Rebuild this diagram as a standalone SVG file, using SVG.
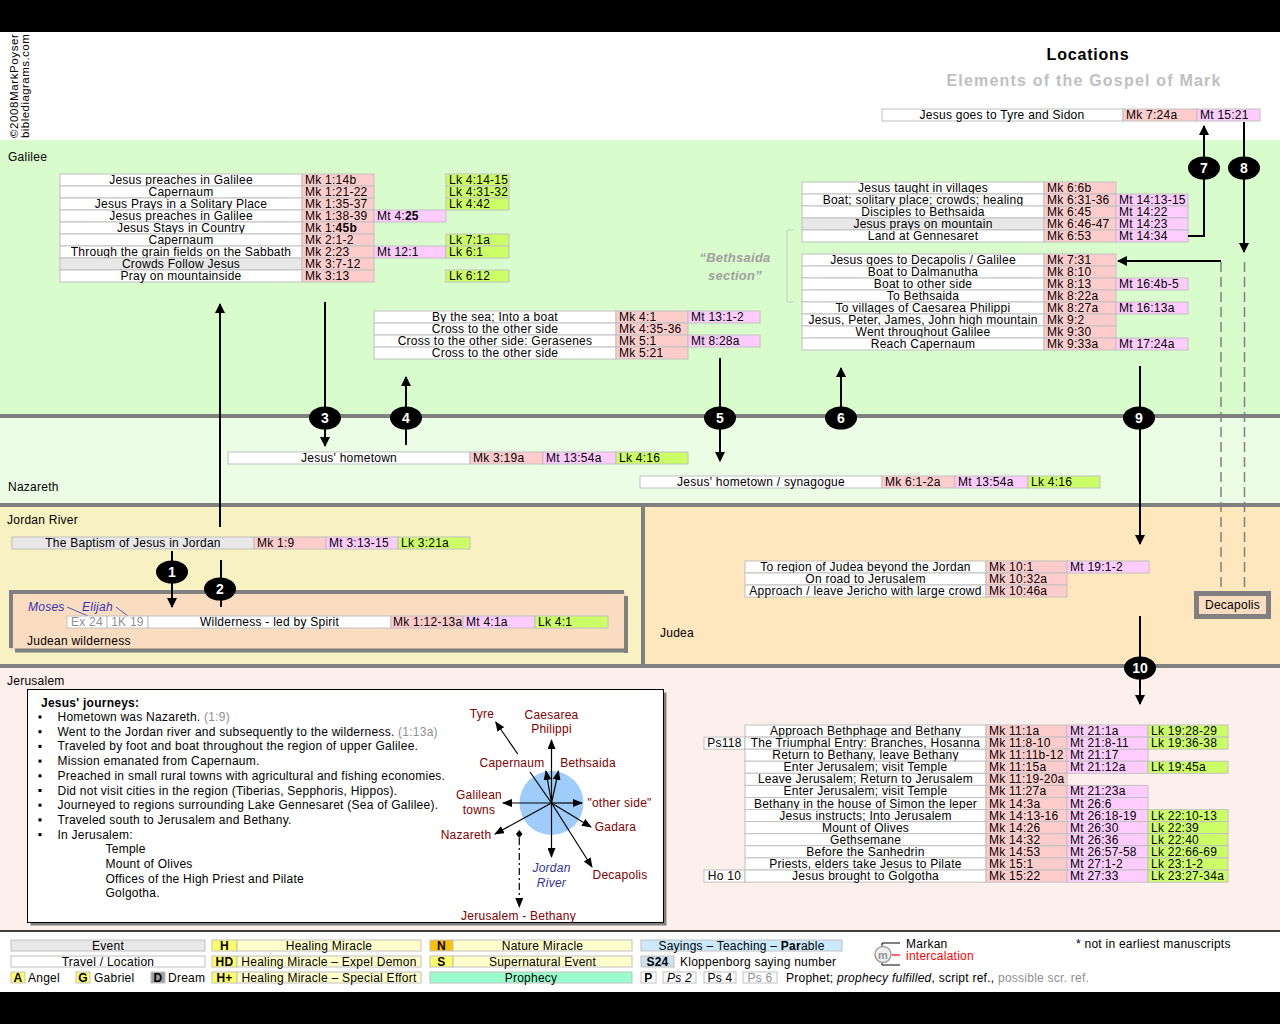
<svg xmlns="http://www.w3.org/2000/svg" width="1280" height="1024" viewBox="0 0 1280 1024">
<defs>
<style>
text{font-family:"Liberation Sans",Arial,sans-serif;font-size:12px;letter-spacing:0.25px;fill:#000}
.m{text-anchor:middle}
.c{stroke:#c0c0c0;stroke-width:1}
.w{fill:#fff}.e{fill:#e8e8e8}.mk{fill:#ffcccc}.mt{fill:#ffccff}.lk{fill:#ccff66}
.sep{stroke:#808080;stroke-width:4}
.ar{stroke:#000;stroke-width:2;fill:none}
.dash{stroke:#808080;stroke-width:1.5;stroke-dasharray:10 5;fill:none}
.n{font-size:14px;font-weight:bold;fill:#fff;text-anchor:middle;letter-spacing:0}
.cp{fill:#800000}
.ca{stroke:#000;stroke-width:1.2;fill:none}
.g{fill:#909090}
.b{font-weight:bold}
.yb{fill:#ffff66;stroke:#c0c0c0;stroke-width:1}
.ly{fill:#ffffcc;stroke:#c0c0c0;stroke-width:1}
</style>
<marker id="ah" viewBox="0 0 10 10" refX="9" refY="5" markerWidth="10" markerHeight="10" markerUnits="userSpaceOnUse" orient="auto"><path d="M0,0L10,5L0,10z" fill="#000"/></marker>
<marker id="sa" viewBox="0 0 10 8" refX="9" refY="4" markerWidth="10" markerHeight="8" markerUnits="userSpaceOnUse" orient="auto"><path d="M0,0L10,4L0,8z" fill="#000"/></marker>
</defs>

<!-- backgrounds -->
<rect x="0" y="0" width="1280" height="1024" fill="#fff"/>
<rect x="0" y="0" width="1280" height="32" fill="#000"/>
<rect x="0" y="140" width="1280" height="276" fill="#d9fccc"/>
<rect x="0" y="416" width="1280" height="89" fill="#ebfde5"/>
<rect x="0" y="505" width="643" height="161" fill="#f8f1c1"/>
<rect x="643" y="505" width="637" height="161" fill="#fee7bd"/>
<rect x="0" y="666" width="1280" height="265" fill="#fdf0ec"/>
<rect x="0" y="992" width="1280" height="32" fill="#000"/>
<line x1="0" y1="931" x2="1280" y2="931" stroke="#000" stroke-width="1.5"/>
<line class="sep" x1="0" y1="416" x2="1280" y2="416"/>
<line class="sep" x1="0" y1="505" x2="1280" y2="505"/>
<line class="sep" x1="643" y1="505" x2="643" y2="666"/>
<line class="sep" x1="0" y1="666" x2="1280" y2="666"/>

<!-- header -->
<g id="title">
<text x="1088" y="60" class="m b" style="font-size:16px;letter-spacing:0.8px">Locations</text>
<text x="1084" y="86" class="m b" style="font-size:16px;letter-spacing:1.2px;fill:#c0c0c0">Elements of the Gospel of Mark</text>
</g>
<g id="copyright">
<text transform="translate(18,138) rotate(-90)" style="font-size:11.5px;letter-spacing:0.6px">©2008MarkPoyser</text>
<text transform="translate(29,138) rotate(-90)" style="font-size:11.5px;letter-spacing:0.45px">biblediagrams.com</text>
</g>

<!-- region labels -->
<g id="region-labels">
<text x="8" y="161">Galilee</text>
<text x="8" y="491">Nazareth</text>
<text x="7" y="524">Jordan River</text>
<text x="660" y="637">Judea</text>
<text x="7" y="685">Jerusalem</text>
</g>

<!-- Tyre -->
<g id="tyre-row">
<rect class="c w" x="882" y="109" width="241" height="12"/><rect class="c mk" x="1123" y="109" width="74" height="12"/><rect class="c mt" x="1197" y="109" width="63" height="12"/>
<text class="m" x="1002" y="119">Jesus goes to Tyre and Sidon</text><text x="1126" y="119">Mk 7:24a</text><text x="1200" y="119">Mt 15:21</text>
</g>

<!-- Galilee table 1 -->
<g id="galilee-table-1">
<rect class="c w" x="60" y="174" width="242" height="12"/><rect class="c mk" x="302" y="174" width="72" height="12"/><rect class="c lk" x="446" y="174" width="63" height="12"/>
<text class="m" x="181" y="184">Jesus preaches in Galilee</text><text x="305" y="184">Mk 1:14b</text><text x="449" y="184">Lk 4:14-15</text>
<rect class="c w" x="60" y="186" width="242" height="12"/><rect class="c mk" x="302" y="186" width="72" height="12"/><rect class="c lk" x="446" y="186" width="63" height="12"/>
<text class="m" x="181" y="196">Capernaum</text><text x="305" y="196">Mk 1:21-22</text><text x="449" y="196">Lk 4:31-32</text>
<rect class="c w" x="60" y="198" width="242" height="12"/><rect class="c mk" x="302" y="198" width="72" height="12"/><rect class="c lk" x="446" y="198" width="63" height="12"/>
<text class="m" x="181" y="208">Jesus Prays in a Solitary Place</text><text x="305" y="208">Mk 1:35-37</text><text x="449" y="208">Lk 4:42</text>
<rect class="c w" x="60" y="210" width="242" height="12"/><rect class="c mk" x="302" y="210" width="72" height="12"/><rect class="c mt" x="374" y="210" width="72" height="12"/>
<text class="m" x="181" y="220">Jesus preaches in Galilee</text><text x="305" y="220">Mk 1:38-39</text><text x="377" y="220">Mt 4:<tspan class="b">25</tspan></text>
<rect class="c w" x="60" y="222" width="242" height="12"/><rect class="c mk" x="302" y="222" width="72" height="12"/>
<text class="m" x="181" y="232">Jesus Stays in Country</text><text x="305" y="232">Mk 1:<tspan class="b">45b</tspan></text>
<rect class="c w" x="60" y="234" width="242" height="12"/><rect class="c mk" x="302" y="234" width="72" height="12"/><rect class="c lk" x="446" y="234" width="63" height="12"/>
<text class="m" x="181" y="244">Capernaum</text><text x="305" y="244">Mk 2:1-2</text><text x="449" y="244">Lk 7:1a</text>
<rect class="c w" x="60" y="246" width="242" height="12"/><rect class="c mk" x="302" y="246" width="72" height="12"/><rect class="c mt" x="374" y="246" width="72" height="12"/><rect class="c lk" x="446" y="246" width="63" height="12"/>
<text class="m" x="181" y="256">Through the grain fields on the Sabbath</text><text x="305" y="256">Mk 2:23</text><text x="377" y="256">Mt 12:1</text><text x="449" y="256">Lk 6:1</text>
<rect class="c e" x="60" y="258" width="242" height="12"/><rect class="c mk" x="302" y="258" width="72" height="12"/>
<text class="m" x="181" y="268">Crowds Follow Jesus</text><text x="305" y="268">Mk 3:7-12</text>
<rect class="c w" x="60" y="270" width="242" height="12"/><rect class="c mk" x="302" y="270" width="72" height="12"/><rect class="c lk" x="446" y="270" width="63" height="12"/>
<text class="m" x="181" y="280">Pray on mountainside</text><text x="305" y="280">Mk 3:13</text><text x="449" y="280">Lk 6:12</text>
</g>

<!-- Sea table -->
<g id="sea-table">
<rect class="c w" x="374" y="311" width="242" height="12"/><rect class="c mk" x="616" y="311" width="72" height="12"/><rect class="c mt" x="688" y="311" width="72" height="12"/>
<text class="m" x="495" y="321">By the sea; Into a boat</text><text x="619" y="321">Mk 4:1</text><text x="691" y="321">Mt 13:1-2</text>
<rect class="c w" x="374" y="323" width="242" height="12"/><rect class="c mk" x="616" y="323" width="72" height="12"/>
<text class="m" x="495" y="333">Cross to the other side</text><text x="619" y="333">Mk 4:35-36</text>
<rect class="c w" x="374" y="335" width="242" height="12"/><rect class="c mk" x="616" y="335" width="72" height="12"/><rect class="c mt" x="688" y="335" width="72" height="12"/>
<text class="m" x="495" y="345">Cross to the other side: Gerasenes</text><text x="619" y="345">Mk 5:1</text><text x="691" y="345">Mt 8:28a</text>
<rect class="c w" x="374" y="347" width="242" height="12"/><rect class="c mk" x="616" y="347" width="72" height="12"/>
<text class="m" x="495" y="357">Cross to the other side</text><text x="619" y="357">Mk 5:21</text>
</g>

<!-- Galilee table 2 -->
<g id="galilee-table-2">
<rect class="c w" x="802" y="182" width="242" height="12"/><rect class="c mk" x="1044" y="182" width="72" height="12"/>
<text class="m" x="923" y="192">Jesus taught in villages</text><text x="1047" y="192">Mk 6:6b</text>
<rect class="c w" x="802" y="194" width="242" height="12"/><rect class="c mk" x="1044" y="194" width="72" height="12"/><rect class="c mt" x="1116" y="194" width="72" height="12"/>
<text class="m" x="923" y="204">Boat; solitary place; crowds; healing</text><text x="1047" y="204">Mk 6:31-36</text><text x="1119" y="204">Mt 14:13-15</text>
<rect class="c w" x="802" y="206" width="242" height="12"/><rect class="c mk" x="1044" y="206" width="72" height="12"/><rect class="c mt" x="1116" y="206" width="72" height="12"/>
<text class="m" x="923" y="216">Disciples to Bethsaida</text><text x="1047" y="216">Mk 6:45</text><text x="1119" y="216">Mt 14:22</text>
<rect class="c e" x="802" y="218" width="242" height="12"/><rect class="c mk" x="1044" y="218" width="72" height="12"/><rect class="c mt" x="1116" y="218" width="72" height="12"/>
<text class="m" x="923" y="228">Jesus prays on mountain</text><text x="1047" y="228">Mk 6:46-47</text><text x="1119" y="228">Mt 14:23</text>
<rect class="c w" x="802" y="230" width="242" height="12"/><rect class="c mk" x="1044" y="230" width="72" height="12"/><rect class="c mt" x="1116" y="230" width="72" height="12"/>
<text class="m" x="923" y="240">Land at Gennesaret</text><text x="1047" y="240">Mk 6:53</text><text x="1119" y="240">Mt 14:34</text>
</g>

<!-- Galilee table 3 -->
<g id="galilee-table-3">
<rect class="c w" x="802" y="254" width="242" height="12"/><rect class="c mk" x="1044" y="254" width="72" height="12"/>
<text class="m" x="923" y="264">Jesus goes to Decapolis / Galilee</text><text x="1047" y="264">Mk 7:31</text>
<rect class="c w" x="802" y="266" width="242" height="12"/><rect class="c mk" x="1044" y="266" width="72" height="12"/>
<text class="m" x="923" y="276">Boat to Dalmanutha</text><text x="1047" y="276">Mk 8:10</text>
<rect class="c w" x="802" y="278" width="242" height="12"/><rect class="c mk" x="1044" y="278" width="72" height="12"/><rect class="c mt" x="1116" y="278" width="72" height="12"/>
<text class="m" x="923" y="288">Boat to other side</text><text x="1047" y="288">Mk 8:13</text><text x="1119" y="288">Mt 16:4b-5</text>
<rect class="c w" x="802" y="290" width="242" height="12"/><rect class="c mk" x="1044" y="290" width="72" height="12"/>
<text class="m" x="923" y="300">To Bethsaida</text><text x="1047" y="300">Mk 8:22a</text>
<rect class="c w" x="802" y="302" width="242" height="12"/><rect class="c mk" x="1044" y="302" width="72" height="12"/><rect class="c mt" x="1116" y="302" width="72" height="12"/>
<text class="m" x="923" y="312">To villages of Caesarea Philippi</text><text x="1047" y="312">Mk 8:27a</text><text x="1119" y="312">Mt 16:13a</text>
<rect class="c w" x="802" y="314" width="242" height="12"/><rect class="c mk" x="1044" y="314" width="72" height="12"/>
<text class="m" x="923" y="324">Jesus, Peter, James, John high mountain</text><text x="1047" y="324">Mk 9:2</text>
<rect class="c w" x="802" y="326" width="242" height="12"/><rect class="c mk" x="1044" y="326" width="72" height="12"/>
<text class="m" x="923" y="336">Went throughout  Galilee</text><text x="1047" y="336">Mk 9:30</text>
<rect class="c w" x="802" y="338" width="242" height="12"/><rect class="c mk" x="1044" y="338" width="72" height="12"/><rect class="c mt" x="1116" y="338" width="72" height="12"/>
<text class="m" x="923" y="348">Reach Capernaum</text><text x="1047" y="348">Mk 9:33a</text><text x="1119" y="348">Mt 17:24a</text>
</g>

<g id="bethsaida-section">
<path d="M793,230H787V302H793" fill="none" stroke="#c8c8c8" stroke-width="1"/>
<text class="m" x="735" y="262" style="font-size:13px;font-style:italic;font-weight:bold;fill:#a0a0a0">“Bethsaida</text>
<text class="m" x="735" y="280" style="font-size:13px;font-style:italic;font-weight:bold;fill:#a0a0a0">section”</text>
</g>

<!-- Nazareth rows -->
<g id="nazareth-row-1">
<rect class="c w" x="228" y="452" width="242" height="12"/><rect class="c mk" x="470" y="452" width="73" height="12"/><rect class="c mt" x="543" y="452" width="73" height="12"/><rect class="c lk" x="616" y="452" width="72" height="12"/>
<text class="m" x="349" y="462">Jesus' hometown</text><text x="473" y="462">Mk 3:19a</text><text x="546" y="462">Mt 13:54a</text><text x="619" y="462">Lk 4:16</text>
</g>
<g id="nazareth-row-2">
<rect class="c w" x="640" y="476" width="242" height="12"/><rect class="c mk" x="882" y="476" width="73" height="12"/><rect class="c mt" x="955" y="476" width="73" height="12"/><rect class="c lk" x="1028" y="476" width="72" height="12"/>
<text class="m" x="761" y="486">Jesus' hometown / synagogue</text><text x="885" y="486">Mk 6:1-2a</text><text x="958" y="486">Mt 13:54a</text><text x="1031" y="486">Lk 4:16</text>
</g>

<!-- Jordan -->
<g id="baptism-row">
<rect class="c e" x="12" y="537" width="242" height="12"/><rect class="c mk" x="254" y="537" width="72" height="12"/><rect class="c mt" x="326" y="537" width="72" height="12"/><rect class="c lk" x="398" y="537" width="72" height="12"/>
<text class="m" x="133" y="547">The Baptism of Jesus in Jordan</text><text x="257" y="547">Mk 1:9</text><text x="329" y="547">Mt 3:13-15</text><text x="401" y="547">Lk 3:21a</text>
</g>

<g id="judean-wilderness">
<rect x="11" y="592" width="615" height="58" fill="#fadcc0"/>
<path d="M9,592H624M11,590V648M15,650.5H628M626,596V653" stroke="#808080" stroke-width="4" fill="none"/>
<text x="28" y="611" style="font-style:italic;fill:#3333bb">Moses</text>
<text x="82" y="611" style="font-style:italic;fill:#3333bb">Elijah</text>
<line x1="67" y1="607" x2="88" y2="616" stroke="#5555bb" stroke-width="1"/>
<line x1="116" y1="607" x2="128" y2="616" stroke="#5555bb" stroke-width="1"/>
<rect class="c w" x="67" y="616" width="40" height="12"/><rect class="c w" x="107" y="616" width="41" height="12"/><rect class="c w" x="148" y="616" width="243" height="12"/><rect class="c mk" x="391" y="616" width="72" height="12"/><rect class="c mt" x="463" y="616" width="72" height="12"/><rect class="c lk" x="535" y="616" width="73" height="12"/>
<text class="m g" x="87" y="626">Ex 24</text><text class="m g" x="127.5" y="626">1K 19</text><text class="m" x="269.5" y="626">Wilderness - led by Spirit</text><text x="393" y="626">Mk 1:12-13a</text><text x="466" y="626">Mt 4:1a</text><text x="538" y="626">Lk 4:1</text>
<text x="27" y="645">Judean wilderness</text>
</g>

<!-- Judea -->
<g id="judea-table">
<rect class="c w" x="745" y="561" width="241" height="12"/><rect class="c mk" x="986" y="561" width="81" height="12"/><rect class="c mt" x="1067" y="561" width="82" height="12"/>
<text class="m" x="865.5" y="571">To region of Judea beyond the Jordan</text><text x="989" y="571">Mk 10:1</text><text x="1070" y="571">Mt 19:1-2</text>
<rect class="c w" x="745" y="573" width="241" height="12"/><rect class="c mk" x="986" y="573" width="81" height="12"/>
<text class="m" x="865.5" y="583">On road to Jerusalem</text><text x="989" y="583">Mk 10:32a</text>
<rect class="c w" x="745" y="585" width="241" height="12"/><rect class="c mk" x="986" y="585" width="81" height="12"/>
<text class="m" x="865.5" y="595">Approach / leave Jericho with large crowd</text><text x="989" y="595">Mk 10:46a</text>
</g>

<g id="decapolis">
<rect x="1196.5" y="593.5" width="72" height="23" fill="#fadcc0" stroke="#808080" stroke-width="5"/>
<text class="m" x="1232.5" y="609">Decapolis</text>
</g>

<!-- Jerusalem table -->
<g id="jerusalem-table">
<rect class="c w" x="745" y="725" width="241" height="12.1"/><rect class="c mk" x="986" y="725" width="81" height="12.1"/><rect class="c mt" x="1067" y="725" width="81" height="12.1"/><rect class="c lk" x="1148" y="725" width="80" height="12.1"/>
<text class="m" x="865.5" y="735">Approach Bethphage and Bethany</text><text x="989" y="735">Mk 11:1a</text><text x="1070" y="735">Mt 21:1a</text><text x="1151" y="735">Lk 19:28-29</text>
<rect class="c w" x="704" y="737.1" width="41" height="12.1"/><rect class="c w" x="745" y="737.1" width="241" height="12.1"/><rect class="c mk" x="986" y="737.1" width="81" height="12.1"/><rect class="c mt" x="1067" y="737.1" width="81" height="12.1"/><rect class="c lk" x="1148" y="737.1" width="80" height="12.1"/>
<text class="m" x="724.5" y="747.1">Ps118</text><text class="m" x="865.5" y="747.1">The Triumphal Entry: Branches, Hosanna</text><text x="989" y="747.1">Mk 11:8-10</text><text x="1070" y="747.1">Mt 21:8-11</text><text x="1151" y="747.1">Lk 19:36-38</text>
<rect class="c w" x="745" y="749.2" width="241" height="12.1"/><rect class="c mk" x="986" y="749.2" width="81" height="12.1"/><rect class="c mt" x="1067" y="749.2" width="81" height="12.1"/>
<text class="m" x="865.5" y="759.2">Return to Bethany, leave Bethany</text><text x="989" y="759.2">Mk 11:11b-12</text><text x="1070" y="759.2">Mt 21:17</text>
<rect class="c w" x="745" y="761.2" width="241" height="12.1"/><rect class="c mk" x="986" y="761.2" width="81" height="12.1"/><rect class="c mt" x="1067" y="761.2" width="81" height="12.1"/><rect class="c lk" x="1148" y="761.2" width="80" height="12.1"/>
<text class="m" x="865.5" y="771.2">Enter Jerusalem; visit Temple</text><text x="989" y="771.2">Mk 11:15a</text><text x="1070" y="771.2">Mt 21:12a</text><text x="1151" y="771.2">Lk 19:45a</text>
<rect class="c w" x="745" y="773.3" width="241" height="12.1"/><rect class="c mk" x="986" y="773.3" width="81" height="12.1"/>
<text class="m" x="865.5" y="783.3">Leave Jerusalem; Return to Jerusalem</text><text x="989" y="783.3">Mk 11:19-20a</text>
<rect class="c w" x="745" y="785.4" width="241" height="12.1"/><rect class="c mk" x="986" y="785.4" width="81" height="12.1"/><rect class="c mt" x="1067" y="785.4" width="81" height="12.1"/>
<text class="m" x="865.5" y="795.4">Enter Jerusalem; visit Temple</text><text x="989" y="795.4">Mk 11:27a</text><text x="1070" y="795.4">Mt 21:23a</text>
<rect class="c w" x="745" y="797.5" width="241" height="12.1"/><rect class="c mk" x="986" y="797.5" width="81" height="12.1"/><rect class="c mt" x="1067" y="797.5" width="81" height="12.1"/>
<text class="m" x="865.5" y="807.5">Bethany in the house of Simon the leper</text><text x="989" y="807.5">Mk 14:3a</text><text x="1070" y="807.5">Mt 26:6</text>
<rect class="c w" x="745" y="809.6" width="241" height="12.1"/><rect class="c mk" x="986" y="809.6" width="81" height="12.1"/><rect class="c mt" x="1067" y="809.6" width="81" height="12.1"/><rect class="c lk" x="1148" y="809.6" width="80" height="12.1"/>
<text class="m" x="865.5" y="819.6">Jesus instructs; Into Jerusalem</text><text x="989" y="819.6">Mk 14:13-16</text><text x="1070" y="819.6">Mt 26:18-19</text><text x="1151" y="819.6">Lk 22:10-13</text>
<rect class="c w" x="745" y="821.6" width="241" height="12.1"/><rect class="c mk" x="986" y="821.6" width="81" height="12.1"/><rect class="c mt" x="1067" y="821.6" width="81" height="12.1"/><rect class="c lk" x="1148" y="821.6" width="80" height="12.1"/>
<text class="m" x="865.5" y="831.6">Mount of Olives</text><text x="989" y="831.6">Mk 14:26</text><text x="1070" y="831.6">Mt 26:30</text><text x="1151" y="831.6">Lk 22:39</text>
<rect class="c w" x="745" y="833.7" width="241" height="12.1"/><rect class="c mk" x="986" y="833.7" width="81" height="12.1"/><rect class="c mt" x="1067" y="833.7" width="81" height="12.1"/><rect class="c lk" x="1148" y="833.7" width="80" height="12.1"/>
<text class="m" x="865.5" y="843.7">Gethsemane</text><text x="989" y="843.7">Mk 14:32</text><text x="1070" y="843.7">Mt 26:36</text><text x="1151" y="843.7">Lk 22:40</text>
<rect class="c w" x="745" y="845.8" width="241" height="12.1"/><rect class="c mk" x="986" y="845.8" width="81" height="12.1"/><rect class="c mt" x="1067" y="845.8" width="81" height="12.1"/><rect class="c lk" x="1148" y="845.8" width="80" height="12.1"/>
<text class="m" x="865.5" y="855.8">Before the Sanhedrin</text><text x="989" y="855.8">Mk 14:53</text><text x="1070" y="855.8">Mt 26:57-58</text><text x="1151" y="855.8">Lk 22:66-69</text>
<rect class="c w" x="745" y="857.9" width="241" height="12.1"/><rect class="c mk" x="986" y="857.9" width="81" height="12.1"/><rect class="c mt" x="1067" y="857.9" width="81" height="12.1"/><rect class="c lk" x="1148" y="857.9" width="80" height="12.1"/>
<text class="m" x="865.5" y="867.9">Priests, elders take Jesus to Pilate</text><text x="989" y="867.9">Mk 15:1</text><text x="1070" y="867.9">Mt 27:1-2</text><text x="1151" y="867.9">Lk 23:1-2</text>
<rect class="c w" x="704" y="870" width="41" height="12.1"/><rect class="c w" x="745" y="870" width="241" height="12.1"/><rect class="c mk" x="986" y="870" width="81" height="12.1"/><rect class="c mt" x="1067" y="870" width="81" height="12.1"/><rect class="c lk" x="1148" y="870" width="80" height="12.1"/>
<text class="m" x="724.5" y="880">Ho 10</text><text class="m" x="865.5" y="880">Jesus brought to  Golgotha</text><text x="989" y="880">Mk 15:22</text><text x="1070" y="880">Mt 27:33</text><text x="1151" y="880">Lk 23:27-34a</text>
</g>

<!-- Journeys box -->
<g id="journeys">
<rect x="30.5" y="692.5" width="636" height="233" fill="#808080"/>
<rect x="27.5" y="689.5" width="636" height="233" fill="#fff" stroke="#000" stroke-width="1"/>
<text x="41" y="707" class="b">Jesus' journeys:</text>
<g fill="#000">
<rect x="38.5" y="715.5" width="3" height="3"/><rect x="38.5" y="730.2" width="3" height="3"/><rect x="38.5" y="744.9" width="3" height="3"/><rect x="38.5" y="759.6" width="3" height="3"/><rect x="38.5" y="774.3" width="3" height="3"/><rect x="38.5" y="789" width="3" height="3"/><rect x="38.5" y="803.7" width="3" height="3"/><rect x="38.5" y="818.4" width="3" height="3"/><rect x="38.5" y="833.1" width="3" height="3"/>
</g>
<text x="57.5" y="721">Hometown was Nazareth. <tspan class="g">(1:9)</tspan></text>
<text x="57.5" y="735.7">Went to the Jordan river and subsequently to the wilderness. <tspan class="g">(1:13a)</tspan></text>
<text x="57.5" y="750.4">Traveled by foot and boat throughout the region of upper Galilee.</text>
<text x="57.5" y="765.1">Mission emanated from Capernaum.</text>
<text x="57.5" y="779.8">Preached in small rural towns with agricultural and fishing economies.</text>
<text x="57.5" y="794.5">Did not visit cities in the region (Tiberias, Sepphoris, Hippos).</text>
<text x="57.5" y="809.2">Journeyed to regions surrounding Lake Gennesaret (Sea of Galilee).</text>
<text x="57.5" y="823.9">Traveled south to Jerusalem and Bethany.</text>
<text x="57.5" y="838.6">In Jerusalem:</text>
<text x="105.5" y="853.3">Temple</text>
<text x="105.5" y="868">Mount of Olives</text>
<text x="105.5" y="882.7">Offices of the High Priest and Pilate</text>
<text x="105.5" y="897.4">Golgotha.</text>
</g>

<g id="compass">
<circle cx="551.5" cy="803" r="32" fill="#9fcdfb"/>
<g class="ca">
<path d="M551.5,803L551.5,740" marker-end="url(#sa)"/>
<path d="M551.5,803L546,771" marker-end="url(#sa)"/>
<path d="M551.5,803L558.5,771" marker-end="url(#sa)"/>
<path d="M551.5,803L503,803" marker-end="url(#sa)"/>
<path d="M551.5,803L582,803" marker-end="url(#sa)"/>
<path d="M551.5,803L591,827" marker-end="url(#sa)"/>
<path d="M551.5,803L592,867" marker-end="url(#sa)"/>
<path d="M551.5,803L495,834" marker-end="url(#sa)"/>
<path d="M551.5,803L551.5,857" marker-end="url(#sa)"/>
<path d="M551.5,803L530,772"/>
<path d="M517.7,754L495.7,722" marker-end="url(#sa)"/>
<path d="M519.3,838V907" stroke-dasharray="7 3 2 3" marker-end="url(#sa)"/>
</g>
<polygon points="519.3,830 522.5,834 519.3,838 516,834" fill="#000"/>
<text class="m cp" x="482" y="718">Tyre</text>
<text class="m cp" x="551.5" y="719">Caesarea</text>
<text class="m cp" x="551.5" y="733">Philippi</text>
<text class="m cp" x="512" y="767">Capernaum</text>
<text class="m cp" x="588" y="767">Bethsaida</text>
<text class="m cp" x="479" y="799">Galilean</text>
<text class="m cp" x="479" y="814">towns</text>
<text class="m cp" x="619.5" y="807">"other side"</text>
<text class="m cp" x="615.5" y="831">Gadara</text>
<text class="m cp" x="466" y="838.5">Nazareth</text>
<text class="m" x="551.5" y="872" style="font-style:italic;fill:#333399">Jordan</text>
<text class="m" x="551.5" y="887" style="font-style:italic;fill:#333399">River</text>
<text class="m cp" x="620" y="878.5">Decapolis</text>
<text class="m cp" x="518.5" y="920">Jerusalem - Bethany</text>
</g>

<!-- connectors -->
<g id="connectors">
<path class="ar" d="M220,527V304" marker-end="url(#ah)"/>
<path class="ar" d="M325,302V446" marker-end="url(#ah)"/>
<path class="ar" d="M406,445V377" marker-end="url(#ah)"/>
<path class="ar" d="M720,358V461" marker-end="url(#ah)"/>
<path class="ar" d="M841,412V368" marker-end="url(#ah)"/>
<path class="ar" d="M1140,366V544" marker-end="url(#ah)"/>
<path class="ar" d="M1140,616V704" marker-end="url(#ah)"/>
<path class="ar" d="M172,551V607" marker-end="url(#ah)"/>
<path class="ar" d="M221,560V607"/>
<path class="ar" d="M1188,236H1204V126" marker-end="url(#ah)"/>
<path class="ar" d="M1244,122V252" marker-end="url(#ah)"/>
<path class="ar" d="M1221,261H1118" marker-end="url(#ah)"/>
<path class="dash" d="M1221,262V591"/>
<path class="dash" d="M1244.5,262V591"/>
</g>

<!-- step numbers -->
<g id="step-1"><ellipse cx="172" cy="572" rx="16" ry="11.5"/><text class="n" x="172" y="577">1</text></g>
<g id="step-2"><ellipse cx="220" cy="589" rx="16" ry="11.5"/><text class="n" x="220" y="594">2</text></g>
<g id="step-3"><ellipse cx="325" cy="418" rx="16" ry="11.5"/><text class="n" x="325" y="423">3</text></g>
<g id="step-4"><ellipse cx="406" cy="418" rx="16" ry="11.5"/><text class="n" x="406" y="423">4</text></g>
<g id="step-5"><ellipse cx="720" cy="418" rx="16" ry="11.5"/><text class="n" x="720" y="423">5</text></g>
<g id="step-6"><ellipse cx="841" cy="418" rx="16" ry="11.5"/><text class="n" x="841" y="423">6</text></g>
<g id="step-7"><ellipse cx="1204" cy="168" rx="16" ry="11.5"/><text class="n" x="1204" y="173">7</text></g>
<g id="step-8"><ellipse cx="1244" cy="168" rx="16" ry="11.5"/><text class="n" x="1244" y="173">8</text></g>
<g id="step-9"><ellipse cx="1139" cy="418" rx="16" ry="11.5"/><text class="n" x="1139" y="423">9</text></g>
<g id="step-10"><ellipse cx="1140" cy="668" rx="16" ry="11.5"/><text class="n" x="1140" y="673">10</text></g>

<!-- legend -->
<g id="legend">
<rect class="c e" x="11" y="940" width="194" height="11"/><text class="m" x="108" y="949.5">Event</text>
<rect class="c w" x="11" y="956" width="194" height="11"/><text class="m" x="108" y="965.5">Travel / Location</text>
<rect class="yb" x="11" y="972" width="14" height="11"/><text class="m b" x="18" y="981.5">A</text><text x="28" y="982">Angel</text>
<rect class="yb" x="76" y="972" width="14" height="11"/><text class="m b" x="83" y="981.5">G</text><text x="94" y="982">Gabriel</text>
<rect x="151" y="972" width="14" height="11" fill="#a0a0a0" stroke="#c0c0c0"/><text class="m b" x="158" y="981.5">D</text><text x="168" y="982">Dream</text>
<rect class="yb" x="212" y="940" width="25" height="11"/><text class="m b" x="224.5" y="949.5">H</text>
<rect class="ly" x="237" y="940" width="184" height="11"/><text class="m" x="329" y="949.5">Healing Miracle</text>
<rect class="yb" x="212" y="956" width="25" height="11"/><text class="m b" x="224.5" y="965.5">HD</text>
<rect class="ly" x="237" y="956" width="184" height="11"/><text class="m" x="329" y="965.5">Healing Miracle – Expel Demon</text>
<rect class="yb" x="212" y="972" width="25" height="11"/><text class="m b" x="224.5" y="981.5">H+</text>
<rect class="ly" x="237" y="972" width="184" height="11"/><text class="m" x="329" y="981.5">Healing Miracle – Special Effort</text>
<rect x="430" y="940" width="23" height="11" fill="#ffc000" stroke="#c0c0c0"/><text class="m b" x="441.5" y="949.5">N</text>
<rect class="ly" x="453" y="940" width="179" height="11"/><text class="m" x="542.5" y="949.5">Nature Miracle</text>
<rect class="yb" x="430" y="956" width="23" height="11"/><text class="m b" x="441.5" y="965.5">S</text>
<rect class="ly" x="453" y="956" width="179" height="11"/><text class="m" x="542.5" y="965.5">Supernatural Event</text>
<rect x="430" y="972" width="202" height="11" fill="#99ffcc" stroke="#c0c0c0"/><text class="m" x="531" y="981.5">Prophecy</text>
<rect x="641" y="940" width="201" height="11" fill="#cce9fb" stroke="#c0c0c0"/><text class="m" x="741.5" y="949.5">Sayings – Teaching – <tspan class="b">Par</tspan>able</text>
<rect x="641" y="956" width="33" height="11" fill="#cce0f0" stroke="#c0c0c0"/><text class="m b" x="657.5" y="965.5">S24</text><text x="680" y="966">Kloppenborg saying number</text>
<rect class="c w" x="641" y="972" width="15" height="11"/><text class="m b" x="648.5" y="981.5">P</text>
<rect class="c w" x="663" y="972" width="33" height="11"/><text class="m" x="679.5" y="981.5" style="font-style:italic">Ps 2</text>
<rect class="c w" x="704" y="972" width="32" height="11"/><text class="m" x="720" y="981.5">Ps 4</text>
<rect class="c w" x="743" y="972" width="34" height="11"/><text class="m g" x="760" y="981.5">Ps 6</text>
<text x="786" y="982">Prophet; <tspan style="font-style:italic">prophecy fulfilled</tspan>, script ref., <tspan class="g">possible scr. ref.</tspan></text>
<path d="M900,943H882V965H900" fill="none" stroke="#000" stroke-width="1"/>
<line x1="892" y1="955" x2="900" y2="955" stroke="#ff0000" stroke-width="1.2"/>
<circle cx="883" cy="954.5" r="8" fill="#f0f0f0" stroke="#a0a0a0" stroke-width="1.5"/>
<text class="m b" x="883" y="958.5" style="fill:#909090;font-size:11px;letter-spacing:0">m</text>
<text x="906" y="947.5">Markan</text>
<text x="906" y="959.5" style="fill:#ff0000">intercalation</text>
<text x="1076" y="947.5">* not in earliest manuscripts</text>
</g>
</svg>
